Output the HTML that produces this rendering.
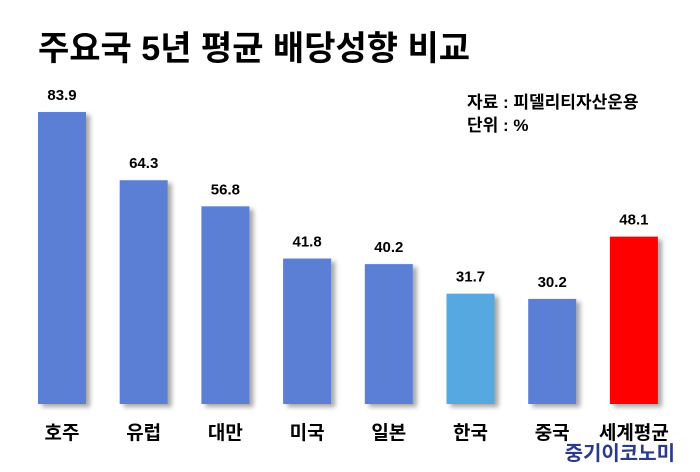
<!DOCTYPE html>
<html><head><meta charset="utf-8"><style>
body{margin:0;background:#fff;}
svg text{font-family:"Liberation Sans","Noto Sans CJK KR",sans-serif;}
</style></head><body>
<svg width="700" height="467" viewBox="0 0 700 467">
<defs><filter id="sh" x="-20%" y="-5%" width="150%" height="120%"><feDropShadow dx="4" dy="3" stdDeviation="2.5" flood-color="#000" flood-opacity="0.35"/></filter></defs>
<text x="38" y="60" font-size="34" font-weight="bold" fill="#000">주요국 5년 평균 배당성향 비교</text>
<text x="467" y="108" font-size="17" font-weight="bold">자료 : 피델리티자산운용</text>
<text x="467" y="131" font-size="17" font-weight="bold">단위 : %</text>
<g id="bars"></g>
<text x="675" y="460" font-size="20" font-weight="bold" fill="#2b3a8a" text-anchor="end">중기이코노미</text>
</svg>
<script>
const categories=["호주","유럽","대만","미국","일본","한국","중국","세계평균"];
const values=[83.9,64.3,56.8,41.8,40.2,31.7,30.2,48.1];
const colors=["#5b7fd6","#5b7fd6","#5b7fd6","#5b7fd6","#5b7fd6","#55a8e0","#5b7fd6","#ff0000"];
const base=404, scale=3.48, x0=38, step=81.7, bw=48;
const g=document.getElementById('bars');
const ns="http://www.w3.org/2000/svg";
function xPos(i){return x0+i*step;}
function yPos(v){return base-v*scale;}
categories.forEach((c,i)=>{
  const r=document.createElementNS(ns,'rect');
  
  
  r.setAttribute('x',xPos(i));r.setAttribute('y',yPos(values[i]));
  r.setAttribute('width',bw);r.setAttribute('height',values[i]*scale);
  r.setAttribute('fill',colors[i]);r.setAttribute('filter','url(#sh)');
  g.appendChild(r);
  const t=document.createElementNS(ns,'text');
  
  
  t.setAttribute('x',xPos(i)+bw/2);t.setAttribute('y',yPos(values[i])-12);
  t.setAttribute('text-anchor','middle');t.setAttribute('font-size','15');t.setAttribute('font-weight','bold');
  t.textContent=values[i].toFixed(1);g.appendChild(t);
  const l=document.createElementNS(ns,'text');
  
  
  l.setAttribute('x',xPos(i)+bw/2);l.setAttribute('y',439);
  l.setAttribute('text-anchor','middle');l.setAttribute('font-size','19');l.setAttribute('font-weight','bold');
  l.textContent=c;g.appendChild(l);
});
</script>
</body></html>
